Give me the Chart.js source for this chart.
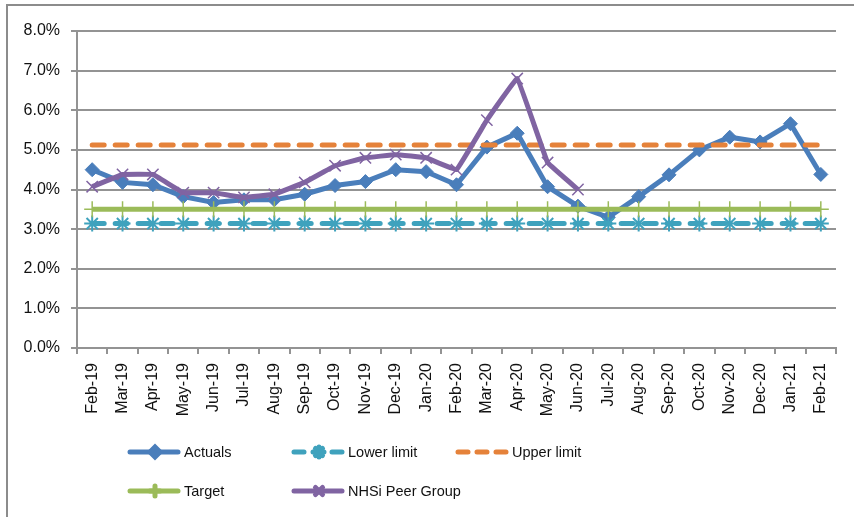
<!DOCTYPE html>
<html lang="en">
  <head>
    <meta charset="UTF-8" />
    <title>Actuals vs limits</title>
    <style>
      body {
        margin: 0;
        background: #fff;
      }
      #wrap {
        width: 854px;
        height: 517px;
      }
    </style>
  </head>
  <body>
    <div id="wrap"><canvas id="chart" width="854" height="517"></canvas></div>

    <script src="https://cdn.jsdelivr.net/npm/chart.js"></script>
    <script>
      // chart data (percent)
      const months = [
        "Feb-19", "Mar-19", "Apr-19", "May-19", "Jun-19", "Jul-19", "Aug-19",
        "Sep-19", "Oct-19", "Nov-19", "Dec-19", "Jan-20", "Feb-20", "Mar-20",
        "Apr-20", "May-20", "Jun-20", "Jul-20", "Aug-20", "Sep-20", "Oct-20",
        "Nov-20", "Dec-20", "Jan-21", "Feb-21",
      ];
      const actuals = [
        4.5, 4.18, 4.12, 3.82, 3.67, 3.74, 3.74, 3.88, 4.1, 4.2, 4.5, 4.45,
        4.12, 5.07, 5.42, 4.07, 3.58, 3.3, 3.82, 4.37, 5.0, 5.32, 5.2, 5.66,
        4.38,
      ];
      const peerGroup = [
        4.07, 4.38, 4.38, 3.92, 3.92, 3.8, 3.88, 4.18, 4.6, 4.8, 4.88, 4.8,
        4.5, 5.75, 6.8, 4.68, 4.0, null, null, null, null, null, null, null,
        null,
      ];
      const lowerLimit = months.map(() => 3.14);
      const upperLimit = months.map(() => 5.12);
      const target = months.map(() => 3.5);
      const yTicks = [0, 1, 2, 3, 4, 5, 6, 7, 8];

      const FONT = "'Liberation Sans', Arial, sans-serif";
      const GRID = "#939393";

      // frame + custom two-row legend like the Excel original
      const frame = {
        id: "frame",
        beforeDraw(chart) {
          const ctx = chart.ctx;
          ctx.save();
          ctx.fillStyle = "#fff";
          ctx.fillRect(0, 0, chart.width, chart.height);
          ctx.strokeStyle = "#8c8c8c";
          ctx.lineWidth = 2;
          ctx.strokeRect(7, 5, chart.width + 20, chart.height + 20);
          ctx.restore();
        },
      };

      const legendSpots = [
        [128, 452],
        [292, 452],
        [456, 452],
        [128, 491],
        [292, 491],
      ];

      const bottomLegend = {
        id: "bottomLegend",
        afterDraw(chart) {
          const ctx = chart.ctx;
          chart.data.datasets.forEach((ds, i) => {
            const [x, y] = legendSpots[i];
            ctx.save();
            ctx.strokeStyle = ds.borderColor;
            ctx.fillStyle = ds.borderColor;
            ctx.lineWidth = 5;
            ctx.lineCap = "round";
            ctx.setLineDash(ds.legendDash || []);
            ctx.beginPath();
            ctx.moveTo(x + 2, y);
            ctx.lineTo(x + 50, y);
            ctx.stroke();
            ctx.setLineDash([]);
            if (ds.pointRadius) {
              Chart.helpers.drawPoint(
                ctx,
                {
                  pointStyle: ds.pointStyle,
                  radius: 5,
                  borderWidth: ds.pointBorderWidth || 1,
                  rotation: 0,
                },
                x + 27,
                y
              );
            }
            ctx.fillStyle = "#111";
            ctx.font = "14.5px " + FONT;
            ctx.textBaseline = "middle";
            ctx.fillText(ds.label, x + 56, y + 1);
            ctx.restore();
          });
        },
      };

      const ctx = document.getElementById("chart").getContext("2d");
      const chart = new Chart(ctx, {
        type: "line",
        data: {
          labels: months,
          datasets: [
            {
              label: "Actuals",
              data: actuals,
              borderColor: "#4a7ebb",
              backgroundColor: "#4a7ebb",
              borderWidth: 5,
              pointStyle: "rectRot",
              pointRadius: 7,
              pointBackgroundColor: "#4a7ebb",
              pointBorderColor: "#4a7ebb",
              pointBorderWidth: 1,
              order: 5,
            },
            {
              label: "Lower limit",
              data: lowerLimit,
              borderColor: "#3fa2bd",
              backgroundColor: "#3fa2bd",
              borderWidth: 5,
              borderDash: [12, 11],
              legendDash: [10, 9],
              borderCapStyle: "round",
              pointStyle: "star",
              pointRadius: 8,
              pointBorderColor: "#3fa2bd",
              pointBorderWidth: 2,
              order: 4,
            },
            {
              label: "Upper limit",
              data: upperLimit,
              borderColor: "#e5823a",
              backgroundColor: "#e5823a",
              borderWidth: 5,
              borderDash: [12, 11],
              legendDash: [10, 9],
              borderCapStyle: "round",
              pointRadius: 0,
              order: 3,
            },
            {
              label: "Target",
              data: target,
              borderColor: "#9bbb59",
              backgroundColor: "#9bbb59",
              borderWidth: 5,
              pointStyle: "cross",
              pointRadius: 8,
              pointBorderColor: "#9bbb59",
              pointBorderWidth: 1.5,
              order: 2,
            },
            {
              label: "NHSi Peer Group",
              data: peerGroup,
              borderColor: "#8064a2",
              backgroundColor: "#8064a2",
              borderWidth: 5,
              tension: 0.05,
              pointStyle: "crossRot",
              pointRadius: 8,
              pointBorderColor: "#8064a2",
              pointBorderWidth: 1.5,
              spanGaps: false,
              order: 1,
            },
          ],
        },
        options: {
          responsive: false,
          animation: false,
          layout: { padding: { left: 5, top: 31, right: 18, bottom: 5 } },
          plugins: {
            legend: { display: false },
            tooltip: { enabled: false },
          },
          scales: {
            x: {
              offset: true,
              afterFit: (s) => (s.height = 164),
              border: { color: GRID, width: 2 },
              grid: {
                offset: true,
                drawOnChartArea: false,
                drawTicks: true,
                tickLength: 6,
                color: GRID,
                lineWidth: 2,
              },
              ticks: {
                autoSkip: false,
                maxRotation: 90,
                minRotation: 90,
                padding: 9,
                color: "#111",
                font: { family: FONT, size: 16 },
              },
            },
            y: {
              min: 0,
              max: 8,
              afterFit: (s) => (s.width = 72),
              afterBuildTicks: (s) => {
                s.ticks = yTicks.map((v) => ({ value: v }));
              },
              border: { color: GRID, width: 2 },
              grid: {
                color: GRID,
                lineWidth: 2,
                tickLength: 6,
              },
              ticks: {
                padding: 11,
                color: "#111",
                font: { family: FONT, size: 16 },
                callback: (v) => v.toFixed(1) + "%",
              },
            },
          },
        },
        plugins: [frame, bottomLegend],
      });
    </script>
  </body>
</html>
